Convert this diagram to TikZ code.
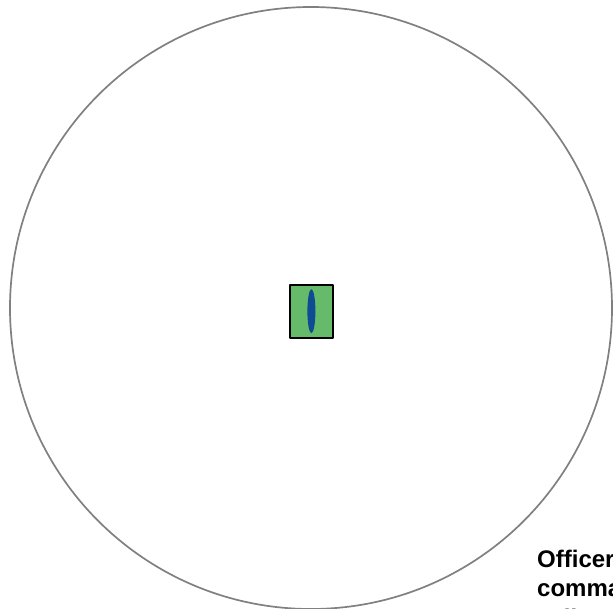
\documentclass[tikz,border=0pt]{standalone}
\usepackage{fontspec}
\setmainfont{Liberation Sans}
\usepackage{tikz}

\definecolor{ringgrey}{HTML}{808080}
\definecolor{postgreen}{HTML}{66BB6A}
\definecolor{postblue}{HTML}{0D4C92}

\tikzset{
  ring/.style={draw=ringgrey, line width=1.7pt},
  post/.style={draw=black, fill=postgreen, line width=2.2pt, minimum width=43pt, minimum height=53pt, inner sep=0pt},
  sentry/.style={ellipse, fill=postblue, minimum width=8pt, minimum height=44pt, inner sep=0pt},
  calltext/.style={anchor=north west, inner sep=0pt, align=left, font=\bfseries\fontsize{24}{29.5}\selectfont}
}
\usetikzlibrary{shapes.geometric}

\begin{document}
\begin{tikzpicture}[x=1pt, y=-1pt, line join=round]

  %% ════ outer ring ════
  \draw[ring] (311.0,308.0) circle (301.0);

  %% ════ post with sentry ════
  \node[post] (post) at (311.2,311.5) {};
  \node[sentry] (sentry) at (311.4,311.2) {};

  %% ════ label (runs off the page edge) ════
  \node[calltext] (officer) at (537.0,549.5) {Officer\\commanding\\cell};

  % fix the canvas to the reference size
  \pgfresetboundingbox
  \path[use as bounding box] (0,0) rectangle (613,608);
\end{tikzpicture}
\end{document}
